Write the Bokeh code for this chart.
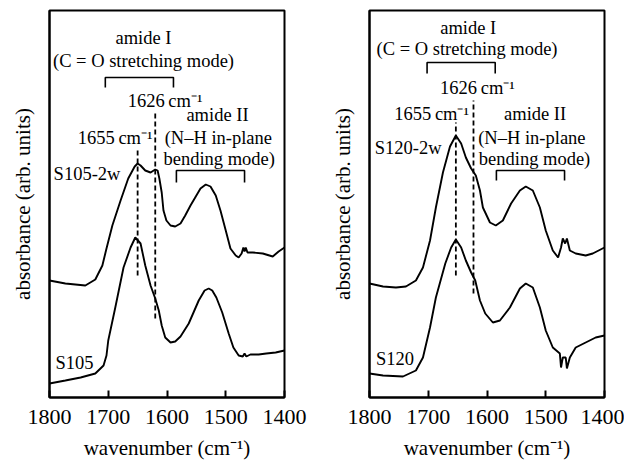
from bokeh.plotting import figure
from bokeh.models import Range1d, FixedTicker, Label
from bokeh.layouts import row
from bokeh.embed import file_html
from bokeh.resources import INLINE

# ---------------- data (absorbance, arbitrary units) ----------------
wn_s105_2w = [1800, 1773, 1739, 1722, 1710, 1703, 1693, 1679, 1666, 1655, 1650, 1645, 1637, 1628,
              1620, 1616, 1613, 1609, 1606, 1601, 1594, 1586, 1577, 1569, 1560, 1551, 1543, 1534,
              1526, 1517, 1509, 1500, 1492, 1483, 1478, 1473, 1470, 1468, 1466, 1463, 1454, 1437,
              1420, 1410, 1400]
ab_s105_2w = [1.17, 1.14, 1.12, 1.18, 1.32, 1.49, 1.72, 1.97, 2.19, 2.31, 2.34, 2.32, 2.27, 2.25,
              2.28, 2.27, 2.19, 2.05, 1.87, 1.77, 1.72, 1.71, 1.74, 1.82, 1.92, 2.01, 2.09, 2.13,
              2.11, 2.02, 1.87, 1.67, 1.49, 1.42, 1.40, 1.44, 1.50, 1.46, 1.50, 1.45, 1.45, 1.44,
              1.41, 1.46, 1.50]

wn_s105 = [1800, 1773, 1747, 1722, 1708, 1703, 1700, 1688, 1674, 1662, 1654, 1645, 1637, 1628,
           1620, 1614, 1609, 1603, 1594, 1586, 1577, 1563, 1546, 1536, 1529, 1523, 1516, 1506,
           1495, 1487, 1478, 1471, 1468, 1465, 1458, 1444, 1431, 1415, 1400]
ab_s105 = [0.14, 0.17, 0.20, 0.24, 0.32, 0.42, 0.57, 0.90, 1.30, 1.50, 1.60, 1.54, 1.32, 1.12,
           0.99, 0.87, 0.72, 0.60, 0.55, 0.56, 0.61, 0.74, 0.97, 1.07, 1.09, 1.07, 1.00, 0.85,
           0.64, 0.50, 0.42, 0.41, 0.44, 0.41, 0.43, 0.43, 0.44, 0.45, 0.47]

wn_s120_2w = [1800, 1777, 1755, 1738, 1721, 1709, 1697, 1687, 1675, 1663, 1653, 1644, 1636, 1627,
              1619, 1612, 1607, 1595, 1585, 1573, 1559, 1544, 1534, 1522, 1510, 1500, 1488, 1479,
              1474, 1471, 1467, 1464, 1459, 1449, 1432, 1420, 1400]
ab_s120_2w = [1.14, 1.11, 1.10, 1.11, 1.17, 1.30, 1.57, 1.90, 2.25, 2.51, 2.62, 2.54, 2.40, 2.29,
              2.22, 2.07, 1.90, 1.75, 1.72, 1.77, 1.94, 2.07, 2.11, 2.07, 1.90, 1.67, 1.47, 1.40,
              1.50, 1.59, 1.54, 1.59, 1.47, 1.44, 1.42, 1.44, 1.50]

wn_s120 = [1800, 1777, 1743, 1721, 1709, 1697, 1687, 1671, 1661, 1653, 1644, 1636, 1627, 1620,
           1612, 1603, 1590, 1578, 1561, 1544, 1534, 1522, 1510, 1500, 1488, 1476, 1474, 1471,
           1466, 1464, 1459, 1449, 1432, 1415, 1400]
ab_s120 = [0.24, 0.22, 0.21, 0.27, 0.40, 0.70, 1.00, 1.34, 1.50, 1.58, 1.50, 1.37, 1.25, 1.17,
           0.97, 0.84, 0.75, 0.77, 0.90, 1.09, 1.14, 1.10, 0.90, 0.67, 0.50, 0.44, 0.30, 0.40,
           0.40, 0.29, 0.40, 0.50, 0.55, 0.60, 0.62]

x_ticks = [1800, 1700, 1600, 1500, 1400]

# dashed marker lines: wavenumber, y bottom, y top
left_marks = [(1650, 1.22, 2.49), (1620, 0.79, 2.85)]
right_marks = [(1653, 1.22, 2.75), (1623, 1.04, 2.97)]

# brackets: wn start, wn end, y top, y leg end
left_brackets = [(1705, 1589, 3.20, 3.10), (1584, 1468, 2.27, 2.15)]
right_brackets = [(1702, 1586, 3.35, 3.24), (1584, 1468, 2.27, 2.17)]

CM = "\u2009cm\u207b\u00b9"
FONT = "'Liberation Serif'"

left_texts = [
    ("amide I", 1640, 3.60, "center"),
    ("(C = O stretching mode)", 1640, 3.37, "center"),
    ("1626" + CM, 1667, 2.97, "left"),
    ("amide II", 1567, 2.83, "left"),
    ("1655" + CM, 1752, 2.60, "left"),
    ("(N\u2013H in-plane", 1604, 2.60, "left"),
    ("bending mode)", 1606, 2.39, "left"),
    ("S105-2w", 1793, 2.24, "left"),
    ("S105", 1790, 0.35, "left"),
]
right_texts = [
    ("amide I", 1632, 3.70, "center"),
    ("(C = O stretching mode)", 1634, 3.49, "center"),
    ("1626" + CM, 1680, 3.10, "left"),
    ("1655" + CM, 1758, 2.84, "left"),
    ("amide II", 1571, 2.84, "left"),
    ("(N\u2013H in-plane", 1615, 2.60, "left"),
    ("bending mode)", 1614, 2.39, "left"),
    ("S120-2w", 1791, 2.50, "left"),
    ("S120", 1789, 0.39, "left"),
]


def make_panel(curves, marks, brackets, texts, border_left, border_right):
    p = figure(frame_width=235, frame_height=387, output_backend="svg", toolbar_location=None,
               x_range=Range1d(1800, 1400), y_range=Range1d(0, 3.87),
               min_border_left=border_left, min_border_right=border_right,
               min_border_top=10, min_border_bottom=5)
    p.grid.visible = False
    p.outline_line_color = "black"
    p.outline_line_width = 2
    p.outline_line_alpha = 1
    p.background_fill_color = "white"
    p.border_fill_color = "white"

    xa = p.xaxis[0]
    xa.ticker = FixedTicker(ticks=x_ticks)
    xa.major_tick_in = 7
    xa.major_tick_out = 0
    xa.major_tick_line_width = 2
    xa.major_tick_line_color = "black"
    xa.minor_tick_line_color = None
    xa.axis_line_width = 2
    xa.axis_line_color = "black"
    xa.major_label_text_font = FONT
    xa.major_label_text_font_size = "22px"
    xa.major_label_text_color = "black"
    xa.major_label_standoff = 12
    xa.axis_label = "wavenumber (cm\u207b\u00b9)"
    xa.axis_label_text_font = FONT
    xa.axis_label_text_font_size = "21px"
    xa.axis_label_text_font_style = "normal"
    xa.axis_label_text_color = "black"
    xa.axis_label_standoff = 9

    ya = p.yaxis[0]
    ya.ticker = FixedTicker(ticks=[])
    ya.major_tick_line_color = None
    ya.minor_tick_line_color = None
    ya.axis_line_width = 2
    ya.axis_line_color = "black"
    ya.major_label_text_font_size = "0px"
    ya.axis_label = "absorbance (arb. units)"
    ya.axis_label_text_font = FONT
    ya.axis_label_text_font_size = "21px"
    ya.axis_label_text_font_style = "normal"
    ya.axis_label_text_color = "black"
    ya.axis_label_standoff = 15

    for xs, ys in curves:
        p.line(xs, ys, line_color="black", line_width=1.9)

    for wn, y0, y1 in marks:
        p.line([wn, wn], [y0, y1], line_color="black", line_width=1.8, line_dash="5 3")

    for a, b, top, leg in brackets:
        p.line([a, a, b, b], [leg, top, top, leg], line_color="black", line_width=1.6)

    for txt, x, y, al in texts:
        p.add_layout(Label(x=x, y=y, text=txt, text_font=FONT, text_font_size="18.5px",
                           text_align=al, text_baseline="middle", text_color="black"))
    return p


p1 = make_panel([(wn_s105_2w, ab_s105_2w), (wn_s105, ab_s105)], left_marks, left_brackets,
                left_texts, 49, 43)
p2 = make_panel([(wn_s120_2w, ab_s120_2w), (wn_s120, ab_s120)], right_marks, right_brackets,
                right_texts, 41, 20)

layout = row(p1, p2, spacing=0)
open("out.html", "w").write(file_html(layout, INLINE))
